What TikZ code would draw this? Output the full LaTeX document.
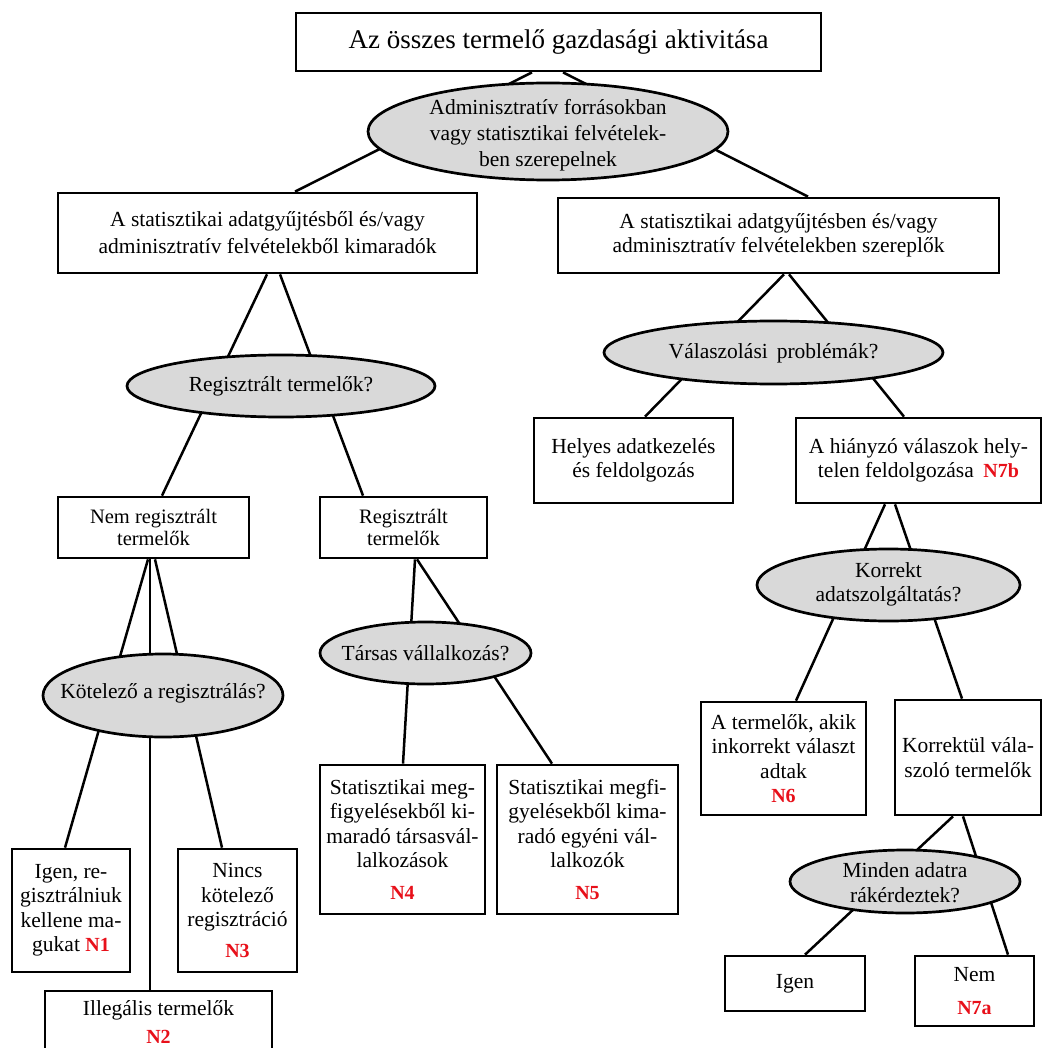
\documentclass[tikz,border=0pt]{standalone}
\usepackage{fontspec}
\setmainfont{Liberation Serif}
\usetikzlibrary{shapes.geometric,backgrounds}
\definecolor{qgray}{RGB}{217,217,217}
\definecolor{nred}{RGB}{232,16,26}
\newcommand\mybody{\fontsize{21.5}{24.5}\selectfont}
\newcommand\mytitle{\fontsize{27}{30}\selectfont}
\newcommand\nlab[1]{{\color{nred}\bfseries\fontsize{20}{24.5}\selectfont #1}}
\tikzset{
  box/.style={draw, line width=2.7pt, fill=white, rectangle, inner sep=0pt, align=center, font=\mybody},
  ques/.style={draw, line width=2.7pt, fill=qgray, ellipse, inner sep=0pt},
  qtext/.style={align=center, font=\mybody, inner sep=0pt},
  link/.style={line width=2.5pt},
}
\begin{document}
\begin{tikzpicture}[x=1pt,y=-1pt]
\useasboundingbox (0,0) rectangle (1048,1048);
\clip (0,0) rectangle (1048,1048);
% boxes
\node[box, minimum width=525pt, minimum height=58pt, font=\mytitle] (top) at (558.5,42) {Az összes termelő gazdasági aktivitása};
\node[ques, minimum width=360pt, minimum height=97pt] (e1) at (548,131.5) {};
\node[qtext, font=\fontsize{21.5}{26}\selectfont] (e1t) at (548,135) {Adminisztratív forrásokban\\vagy statisztikai felvételek-\\ben szerepelnek};
\node[box, minimum width=419pt, minimum height=80pt, font=\fontsize{21.5}{27}\selectfont] (lb) at (267.5,233) {A statisztikai adatgyűjtésből és/vagy\\adminisztratív felvételekből kimaradók};
\node[box, minimum width=441pt, minimum height=75pt] (rb) at (778.5,235.5) {A statisztikai adatgyűjtésben és/vagy\\adminisztratív felvételekben szereplők};
\node[ques, minimum width=308pt, minimum height=62pt] (e2) at (281,386) {};
\node[qtext] (e2t) at (281,386) {Regisztrált termelők?};
\node[ques, minimum width=339pt, minimum height=63pt] (e3) at (773.5,352.5) {};
\node[qtext] (e3t) at (773.5,353) {Válaszolási\, problémák?};
\node[box, minimum width=199pt, minimum height=85pt] (helyes) at (633.5,460.5) {Helyes adatkezelés\\és feldolgozás};
\node[box, minimum width=245pt, minimum height=85pt] (hiany) at (918.5,460.5) {A hiányzó válaszok hely-\\telen feldolgozása\hspace{0.45em}\nlab{N7b}};
\node[box, minimum width=191pt, minimum height=61pt, font=\fontsize{20.5}{22.5}\selectfont] (nemreg) at (153.5,527.5) {Nem regisztrált\\termelők};
\node[box, minimum width=167pt, minimum height=61pt, font=\fontsize{20.5}{22.5}\selectfont] (reg) at (403.5,527.5) {Regisztrált\\termelők};
\node[ques, minimum width=263pt, minimum height=72pt] (e4) at (888.5,585) {};
\node[qtext] (e4t) at (888.5,584.5) {Korrekt\\adatszolgáltatás?};
\node[ques, minimum width=211pt, minimum height=62pt] (e5) at (425.5,653) {};
\node[qtext] (e5t) at (425.5,653) {Társas vállalkozás?};
\node[ques, minimum width=240pt, minimum height=83pt] (e6) at (163,695.5) {};
\node[qtext] (e6t) at (163,693) {Kötelező a regisztrálás?};
\node[box, minimum width=165pt, minimum height=113pt] (n6) at (783.5,758.5) {A termelők, akik\\inkorrekt választ\\adtak\\\nlab{N6}};
\node[box, minimum width=146pt, minimum height=115pt] (korr) at (968,757.5) {Korrektül vála-\\szoló termelők};
\node[box, minimum width=165pt, minimum height=149pt] (n4) at (402.5,839.5) {Statisztikai meg-\\figyelésekből ki-\\maradó társasvál-\\lalkozások\\[7pt]\nlab{N4}};
\node[box, minimum width=181pt, minimum height=149pt] (n5) at (587.5,839.5) {Statisztikai megfi-\\gyelésekből kima-\\radó egyéni vál-\\lalkozók\\[7pt]\nlab{N5}};
\node[box, minimum width=118pt, minimum height=123pt] (igen1) at (71,910.5) {Igen, re-\\gisztrálniuk\\kellene ma-\\gukat \nlab{N1}};
\node[box, minimum width=119pt, minimum height=123pt] (nincs) at (237.5,910.5) {Nincs\\kötelező\\regisztráció\\[6pt]\nlab{N3}};
\node[ques, minimum width=230pt, minimum height=63pt] (e7) at (905,881.5) {};
\node[qtext] (e7t) at (905,882.5) {Minden adatra\\rákérdeztek?};
\node[box, minimum width=140pt, minimum height=55pt] (igen2) at (795,983.5) {Igen};
\node[box, minimum width=119pt, minimum height=70pt] (nem2) at (974.5,991) {Nem\\[8pt]\nlab{N7a}};
\node[box, minimum width=227pt, minimum height=62pt] (illeg) at (158.5,1022) {Illegális termelők\\[3pt]\nlab{N2}};
% connectors
\begin{pgfonlayer}{background}
\draw[link] ([xshift=-26.5pt]top.south) -- ([xshift=27.5pt]lb.north);
\draw[link] ([xshift=4.5pt]top.south) -- ([xshift=29.5pt]rb.north);
\draw[link] ([xshift=-0.5pt]lb.south) -- ([xshift=8.5pt]nemreg.north);
\draw[link] ([xshift=12.5pt]lb.south) -- ([xshift=-40.5pt]reg.north);
\draw[link] ([xshift=5.5pt]rb.south) -- ([xshift=11.5pt]helyes.north);
\draw[link] ([xshift=10.5pt]rb.south) -- ([xshift=-14.5pt]hiany.north);
\draw[link] ([xshift=-5.5pt]nemreg.south) -- ([xshift=-6pt]igen1.north);
\draw[link] ([xshift=-3.5pt]nemreg.south) -- ([xshift=-8.5pt]illeg.north);
\draw[link] ([xshift=1.5pt]nemreg.south) -- ([xshift=-15.5pt]nincs.north);
\draw[link] ([xshift=11.5pt]reg.south) -- ([xshift=0.5pt]n4.north);
\draw[link] ([xshift=13.5pt]reg.south) -- ([xshift=-35.5pt]n5.north);
\draw[link] ([xshift=-33.5pt]hiany.south) -- ([xshift=12.5pt]n6.north);
\draw[link] ([xshift=-23.5pt]hiany.south) -- ([xshift=-6pt]korr.north);
\draw[link] ([xshift=-15pt]korr.south) -- ([xshift=10pt]igen2.north);
\draw[link] ([xshift=-5pt]korr.south) -- ([xshift=33.5pt]nem2.north);
\end{pgfonlayer}
\end{tikzpicture}
\end{document}
